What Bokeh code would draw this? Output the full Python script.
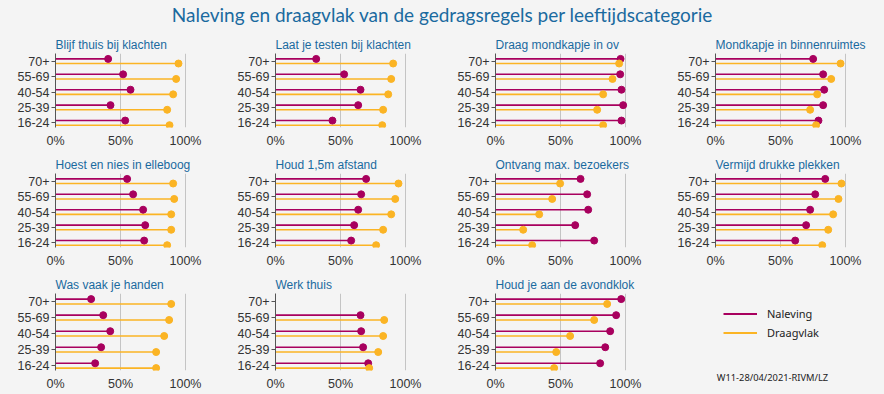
from bokeh.plotting import figure
from bokeh.layouts import column, row
from bokeh.models import Range1d, FixedTicker, Div, Legend, LegendItem, ColumnDataSource
from bokeh.transform import dodge
from bokeh.embed import file_html
from bokeh.resources import INLINE

NAN = float("nan")

# ---------------- data ----------------
ages = ["70+", "55-69", "40-54", "25-39", "16-24"]
x_ticks = [0, 0.5, 1.0]
x_tick_labels = ["0%", "50%", "100%"]

titles = [
    "Blijf thuis bij klachten", "Laat je testen bij klachten", "Draag mondkapje in ov",
    "Mondkapje in binnenruimtes", "Hoest en nies in elleboog", "Houd 1,5m afstand",
    "Ontvang max. bezoekers", "Vermijd drukke plekken", "Was vaak je handen",
    "Werk thuis", "Houd je aan de avondklok",
]

nal_blijf_thuis = [0.405, 0.52, 0.577, 0.423, 0.536]
dra_blijf_thuis = [0.946, 0.928, 0.905, 0.859, 0.877]
nal_testen = [0.313, 0.528, 0.654, 0.636, 0.438]
dra_testen = [0.905, 0.89, 0.867, 0.828, 0.821]
nal_mondkapje_ov = [0.962, 0.959, 0.969, 0.982, 0.969]
dra_mondkapje_ov = [0.951, 0.90, 0.828, 0.782, 0.828]
nal_mondkapje_binnen = [0.751, 0.828, 0.836, 0.828, 0.792]
dra_mondkapje_binnen = [0.962, 0.89, 0.782, 0.728, 0.774]
nal_hoest = [0.551, 0.597, 0.674, 0.69, 0.682]
dra_hoest = [0.905, 0.913, 0.89, 0.89, 0.859]
nal_afstand = [0.697, 0.659, 0.636, 0.605, 0.582]
dra_afstand = [0.946, 0.921, 0.89, 0.828, 0.774]
nal_bezoekers = [0.654, 0.705, 0.713, 0.613, 0.759]
dra_bezoekers = [0.497, 0.436, 0.336, 0.213, 0.282]
nal_drukke = [0.844, 0.767, 0.728, 0.697, 0.613]
dra_drukke = [0.969, 0.946, 0.905, 0.867, 0.821]
nal_handen = [0.274, 0.367, 0.421, 0.351, 0.305]
dra_handen = [0.89, 0.874, 0.836, 0.774, 0.774]
nal_werk_thuis = [NAN, 0.654, 0.659, 0.674, 0.713]
dra_werk_thuis = [NAN, 0.836, 0.828, 0.79, 0.721]
nal_avondklok = [0.967, 0.928, 0.882, 0.844, 0.805]
dra_avondklok = [0.859, 0.759, 0.574, 0.467, 0.451]

series = [
    (nal_blijf_thuis, dra_blijf_thuis), (nal_testen, dra_testen),
    (nal_mondkapje_ov, dra_mondkapje_ov), (nal_mondkapje_binnen, dra_mondkapje_binnen),
    (nal_hoest, dra_hoest), (nal_afstand, dra_afstand),
    (nal_bezoekers, dra_bezoekers), (nal_drukke, dra_drukke),
    (nal_handen, dra_handen), (nal_werk_thuis, dra_werk_thuis),
    (nal_avondklok, dra_avondklok),
]

legend_labels = ["Naleving", "Draagvlak"]
main_title = "Naleving en draagvlak van de gedragsregels per leeftijdscategorie"
footnote = "W11-28/04/2021-RIVM/LZ"

# ---------------- style ----------------
BG = "#f4f4f4"
BLUE = "#1a6a9f"
NAL = "#a8005e"
DRA = "#fbb424"
GRID = "#c4c4c4"
AXIS = "#555555"
TXT = "#333333"
FONT = "Liberation Sans"

FRAME_W = 150
PX_PER_UNIT = 130
X_END = FRAME_W / PX_PER_UNIT
LEFT = 55
TOP = 23


def panel(title, nal, dra, w, h):
    ypos = [len(ages) - 1 - i for i in range(len(ages))]
    src = ColumnDataSource(dict(y=ypos, nal=nal, dra=dra, zero=[0] * len(ages)))
    p = figure(width=w, height=h, output_backend="svg", toolbar_location=None,
               x_range=Range1d(0, X_END), y_range=Range1d(-0.3, 4.5),
               min_border_left=LEFT, min_border_right=w - LEFT - FRAME_W,
               min_border_top=TOP, min_border_bottom=h - 100,
               background_fill_color=BG, border_fill_color=BG,
               outline_line_color=None)
    p.title.text = title
    p.title.text_font = FONT
    p.title.text_font_size = "12px"
    p.title.text_font_style = "normal"
    p.title.text_color = BLUE
    p.title.offset = 0
    p.title.standoff = 4

    p.segment(x0="zero", y0=dodge("y", 0.15), x1="nal", y1=dodge("y", 0.15),
              source=src, line_color=NAL, line_width=1.6)
    p.segment(x0="zero", y0=dodge("y", -0.15), x1="dra", y1=dodge("y", -0.15),
              source=src, line_color=DRA, line_width=1.6)
    p.scatter(x="nal", y=dodge("y", 0.15), source=src, size=7,
              fill_color=NAL, line_color=NAL)
    p.scatter(x="dra", y=dodge("y", -0.15), source=src, size=7,
              fill_color=DRA, line_color=DRA)

    p.xaxis.ticker = FixedTicker(ticks=x_ticks)
    p.xaxis.major_label_overrides = {t: l for t, l in zip(x_ticks, x_tick_labels)}
    p.xaxis.axis_line_color = None
    p.xaxis.major_tick_line_color = None
    p.xaxis.minor_tick_line_color = None
    p.xaxis.major_label_standoff = 0
    p.xaxis.major_label_text_font = FONT
    p.xaxis.major_label_text_font_size = "12.5px"
    p.xaxis.major_label_text_color = TXT

    p.yaxis.ticker = FixedTicker(ticks=ypos)
    p.yaxis.major_label_overrides = {y: a for y, a in zip(ypos, ages)}
    p.yaxis.axis_line_color = AXIS
    p.yaxis.major_tick_line_color = AXIS
    p.yaxis.major_tick_out = 4
    p.yaxis.major_tick_in = 0
    p.yaxis.minor_tick_line_color = None
    p.yaxis.major_label_standoff = 2
    p.yaxis.major_label_text_font = FONT
    p.yaxis.major_label_text_font_size = "12.5px"
    p.yaxis.major_label_text_color = TXT

    p.xgrid.ticker = FixedTicker(ticks=x_ticks[1:])
    p.xgrid.grid_line_color = GRID
    p.xgrid.grid_line_width = 1
    p.ygrid.grid_line_color = None
    return p


def legend_panel(w, h):
    src = ColumnDataSource(dict(x=[NAN], y=[NAN]))
    p = figure(width=w, height=h, output_backend="svg", toolbar_location=None,
               x_range=Range1d(0, 1), y_range=Range1d(0, 1),
               x_axis_location="below", y_axis_location=None,
               min_border_left=0, min_border_right=0,
               min_border_top=0, min_border_bottom=0,
               background_fill_color=BG, border_fill_color=BG,
               outline_line_color=None)
    p.title.visible = False
    p.grid.visible = False
    r1 = p.segment(x0="x", y0="y", x1="x", y1="y", source=src, line_color=NAL, line_width=2)
    r2 = p.segment(x0="x", y0="y", x1="x", y1="y", source=src, line_color=DRA, line_width=2)
    # the frame of this figure is aligned with the neighbouring panels
    leg = Legend(items=[LegendItem(label=legend_labels[0], renderers=[r1]),
                        LegendItem(label=legend_labels[1], renderers=[r2])],
                 location=(63, 28), glyph_width=34, glyph_height=19,
                 label_height=19, spacing=0, padding=0, margin=0,
                 label_standoff=10, border_line_color=None,
                 background_fill_alpha=0,
                 label_text_font="Noto Sans", label_text_font_size="11px",
                 label_text_color="#222222")
    p.add_layout(leg)
    # footnote as the (tick-less) x-axis label, centred under this slot
    p.xaxis.ticker = FixedTicker(ticks=[])
    p.xaxis.axis_line_color = None
    p.xaxis.major_tick_line_color = None
    p.xaxis.minor_tick_line_color = None
    p.xaxis.major_tick_out = 0
    p.xaxis.major_label_standoff = 0
    p.xaxis.axis_label = footnote
    p.xaxis.axis_label_standoff = 0
    p.xaxis.axis_label_text_font = "Noto Sans"
    p.xaxis.axis_label_text_font_size = "9.3px"
    p.xaxis.axis_label_text_font_style = "normal"
    p.xaxis.axis_label_text_color = "#222222"
    return p


rows = []
k = 0
for r in range(3):
    h = 120 if r < 2 else 124
    figs = []
    for c in range(4):
        w = 220 if c < 3 else 224
        if k < len(titles):
            nal, dra = series[k]
            figs.append(panel(titles[k], nal, dra, w, h))
        else:
            figs.append(legend_panel(w, h))
        k += 1
    rows.append(row(*figs, spacing=0))

header = Div(text=main_title, width=884, height=30, margin=0,
             styles={"text-align": "center", "font-size": "19px", "color": BLUE,
                     "font-family": "Lato", "line-height": "30px",
                     "background-color": BG})

p = column(header, *rows, spacing=0)

html = file_html(p, INLINE)
style = "<style>html, body { background-color: %s !important; overflow: hidden; }</style>" % BG
html = html.replace("</head>", style + "</head>", 1)
open("out.html", "w").write(html)
